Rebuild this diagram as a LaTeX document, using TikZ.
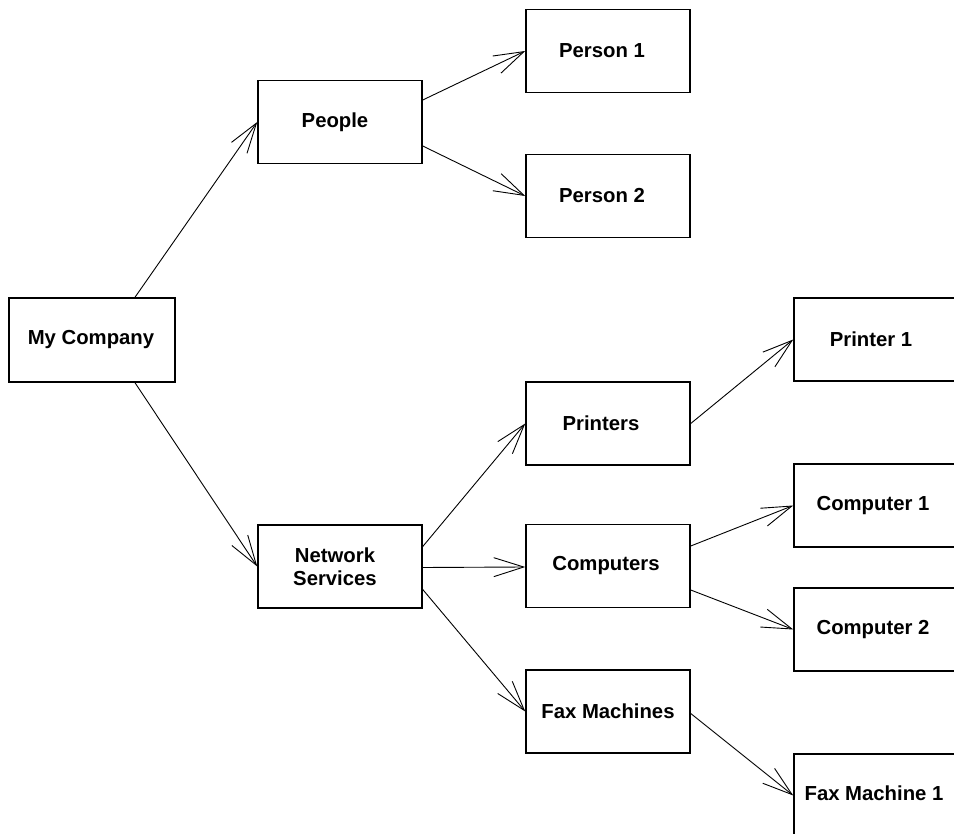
\documentclass[tikz,border=0pt]{standalone}
\usepackage{fontspec}
\setmainfont{Liberation Sans}
\usetikzlibrary{arrows.meta,calc}
\begin{document}
\begin{tikzpicture}[x=1pt,y=-1pt,
  box/.style={draw,line width=1.5pt,minimum width=164pt,minimum height=83pt,inner sep=0pt},
  txt/.style={font=\fontsize{20.3}{23}\selectfont\bfseries,align=center,inner sep=0pt},
  conn/.style={line width=0.9pt,-{Straight Barb[length=30pt,width=19pt,line width=0.9pt]}}]
\useasboundingbox (0,0) rectangle (954,834);
\clip (0,0) rectangle (954,834);
% boxes
\node[box,minimum width=166pt,minimum height=84pt] (mc) at (92,340) {};
\node[box] (people) at (340,122) {};
\node[box] (p1) at (608,51) {};
\node[box] (p2) at (608,196) {};
\node[box] (ns) at (340,566.5) {};
\node[box] (printers) at (608,423.5) {};
\node[box] (computers) at (608,566) {};
\node[box] (fax) at (608,711.5) {};
\node[box] (pr1) at (876,339.5) {};
\node[box] (c1) at (876,505.5) {};
\node[box] (c2) at (876,629.5) {};
\node[box] (fm1) at (876,795.5) {};
% texts
\node[txt] (tmc) at ($(mc.center)+(-1,0)$) {My Company};
\node[txt] (tpeople) at ($(people.center)+(-5,0)$) {People};
\node[txt] (tp1) at ($(p1.center)+(-6,0)$) {Person 1};
\node[txt] (tp2) at ($(p2.center)+(-6,0)$) {Person 2};
\node[txt] (tns) at ($(ns.center)+(-5,0)$) {Network\\Services};
\node[txt] (tprinters) at ($(printers.center)+(-7,0)$) {Printers};
\node[txt] (tcomputers) at ($(computers.center)+(-2,0)$) {Computers};
\node[txt] (tfax) at ($(fax.center)+(0,0)$) {Fax Machines};
\node[txt] (tpr1) at ($(pr1.center)+(-5,0)$) {Printer 1};
\node[txt] (tc1) at ($(c1.center)+(-3,0)$) {Computer 1};
\node[txt] (tc2) at ($(c2.center)+(-3,0)$) {Computer 2};
\node[txt] (tfm1) at ($(fm1.center)+(-2,-2)$) {Fax Machine 1};
% connectors
\draw[conn] ($(mc.north)+(43,0)$) -- (people.west);
\draw[conn] ($(mc.south)+(43,0)$) -- (ns.west);
\draw[conn] ($(people.east)+(0,-22)$) -- (p1.west);
\draw[conn] ($(people.east)+(0,24)$) -- (p2.west);
\draw[conn] ($(ns.east)+(0,-20)$) -- (printers.west);
\draw[conn] ($(ns.east)+(0,1)$) -- ($(computers.west)+(0,1)$);
\draw[conn] ($(ns.east)+(0,23)$) -- (fax.west);
\draw[conn] ($(printers.east)+(0,0)$) -- (pr1.west);
\draw[conn] ($(computers.east)+(0,-20)$) -- (c1.west);
\draw[conn] ($(computers.east)+(0,24)$) -- (c2.west);
\draw[conn] ($(fax.east)+(0,2)$) -- (fm1.west);
\end{tikzpicture}
\end{document}
